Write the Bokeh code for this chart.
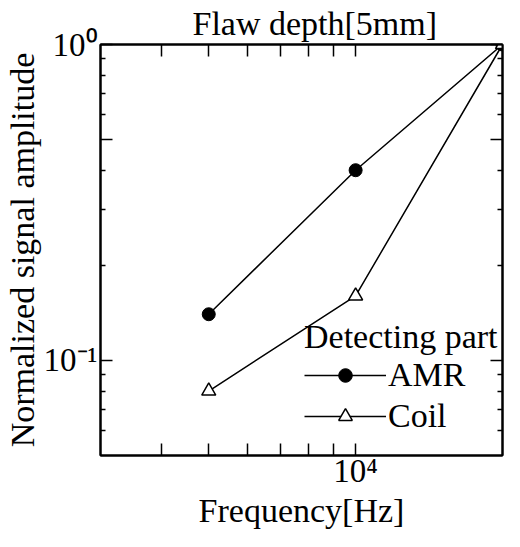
from bokeh.plotting import figure
from bokeh.models import (LogAxis, FixedTicker, CustomJSTickFormatter, Legend,
                          LegendItem, Range1d)
from bokeh.embed import file_html
from bokeh.resources import INLINE

# ---- data ----
freq = [5000, 10000, 20000]
amr = [0.14, 0.40, 1.0]
coil = [0.08, 0.16, 1.0]
series_names = ["AMR", "Coil"]

x_lim = [3000, 20000]
y_lim = [0.05, 1.0]
x_major = [10000]
x_minor = [4000, 5000, 6000, 7000, 8000, 9000]
y_major = [0.1, 0.5, 1.0]
y_minor = [0.06, 0.07, 0.08, 0.09, 0.2, 0.3, 0.4, 0.6, 0.7, 0.8, 0.9]

title_text = "Flaw depth[5mm]"
x_label = "Frequency[Hz]"
y_label = "Normalized signal amplitude"
legend_title = "Detecting part"

FONT = "Liberation Serif"
FS = "34px"

p = figure(x_axis_type="log", y_axis_type="log",
           x_range=Range1d(*x_lim), y_range=Range1d(*y_lim),
           width=504, height=531,
           output_backend="svg", toolbar_location=None,
           min_border_left=93, min_border_right=2,
           min_border_top=38, min_border_bottom=0)
p.grid.visible = False
p.outline_line_color = "black"
p.outline_line_width = 2
p.background_fill_color = "white"
p.border_fill_color = "white"

p.title.text = title_text
p.title.text_font = FONT
p.title.text_font_size = FS
p.title.text_font_style = "normal"
p.title.text_color = "black"
p.title.align = "left"
p.title.offset = 92
p.title.standoff = 5

x_fmt = CustomJSTickFormatter(code="""
if (Math.abs(tick - 10000) < 1e-6) return "10\u2074";
return "";
""")
y_fmt = CustomJSTickFormatter(code="""
if (Math.abs(tick - 1) < 1e-9) return "10\u2070";
if (Math.abs(tick - 0.1) < 1e-9) return "10\u207b\u00b9";
return "";
""")


def style(ax, major, minor, minor_len, labels=True):
    ax.ticker = FixedTicker(ticks=major, minor_ticks=minor)
    ax.axis_line_width = 2
    ax.axis_line_color = "black"
    ax.major_tick_in = 12
    ax.major_tick_out = 0
    ax.minor_tick_in = minor_len
    ax.minor_tick_out = 0
    ax.major_tick_line_width = 1.5
    ax.minor_tick_line_width = 1.5
    ax.major_tick_line_color = "black"
    ax.minor_tick_line_color = "black"
    if labels:
        ax.major_label_text_font = FONT
        ax.major_label_text_font_size = "33px"
        ax.major_label_text_color = "black"
        ax.axis_label_text_font = FONT
        ax.axis_label_text_font_size = FS
        ax.axis_label_text_font_style = "normal"
        ax.axis_label_text_color = "black"
    else:
        ax.major_label_text_font_size = "0px"
        ax.major_label_standoff = 0
        ax.axis_label_standoff = 0


xa = p.xaxis[0]
style(xa, x_major, x_minor, 12)
xa.formatter = x_fmt
xa.axis_label = x_label
xa.major_label_standoff = -3
xa.axis_label_standoff = 0

ya = p.yaxis[0]
style(ya, y_major, y_minor, 5)
ya.formatter = y_fmt
ya.axis_label = y_label
ya.major_label_standoff = 3
ya.axis_label_standoff = 0
ya.major_label_orientation = "horizontal"

top = LogAxis()
style(top, x_major, x_minor, 12, labels=False)
top.formatter = CustomJSTickFormatter(code="return '';")
p.add_layout(top, "above")

right = LogAxis()
style(right, y_major, y_minor, 5, labels=False)
right.formatter = CustomJSTickFormatter(code="return '';")
p.add_layout(right, "right")

l1 = p.line(freq, amr, line_color="black", line_width=1.5)
s1 = p.scatter(freq, amr, marker="circle", size=13, fill_color="black",
               line_color="black")
l2 = p.line(freq, coil, line_color="black", line_width=1.5)
s2 = p.scatter(freq, coil, marker="triangle", size=14, fill_color="white",
               line_color="black", line_width=1.5)

legend = Legend(items=[LegendItem(label=series_names[0], renderers=[l1, s1]),
                       LegendItem(label=series_names[1], renderers=[l2, s2])],
                title=legend_title, location=(204, 20))
legend.title_text_font = FONT
legend.title_text_font_size = FS
legend.title_text_font_style = "normal"
legend.title_text_color = "black"
legend.title_standoff = 0
legend.label_text_font = FONT
legend.label_text_font_size = FS
legend.label_text_color = "black"
legend.label_standoff = 2
legend.glyph_width = 82
legend.glyph_height = 34
legend.label_height = 34
legend.spacing = 3
legend.padding = 0
legend.margin = 0
legend.border_line_color = None
legend.background_fill_alpha = 0
p.add_layout(legend)

open("out.html", "w").write(file_html(p, INLINE))
